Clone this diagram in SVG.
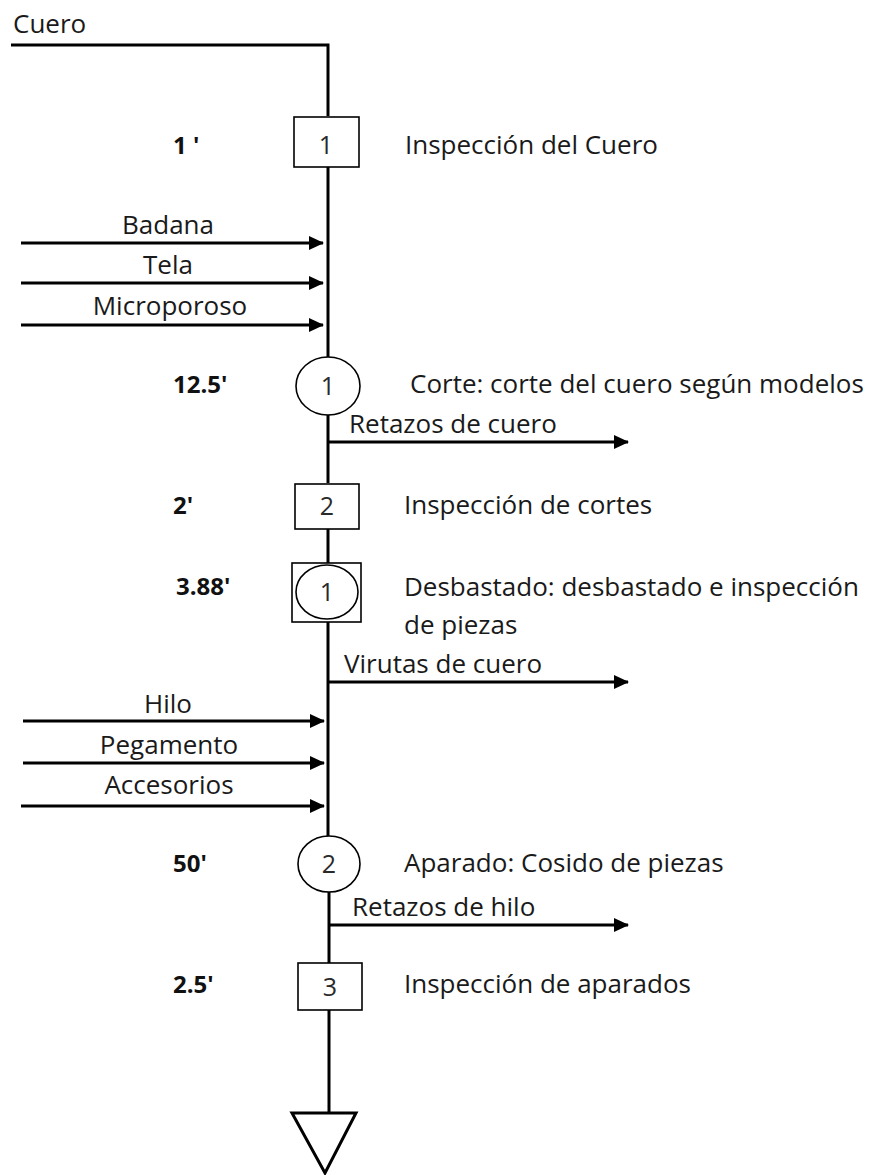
<svg xmlns="http://www.w3.org/2000/svg" width="874" height="1175" viewBox="0 0 874 1175">
<defs>
<style>
.t{font-family:"Open Sans","Liberation Sans",sans-serif;font-size:26px;fill:#1a1a1a}
.b{font-family:"Open Sans","Liberation Sans",sans-serif;font-size:24px;font-weight:bold;fill:#111}
.n{font-family:"Open Sans","Liberation Sans",sans-serif;font-size:25px;fill:#2a2a2a;text-anchor:middle}
.ln{stroke:#000;stroke-width:3;fill:none}
.sh{stroke:#000;stroke-width:1.6;fill:#fff}
</style>
<marker id="ah" viewBox="0 0 15 14" refX="14" refY="7" markerWidth="15" markerHeight="14" markerUnits="userSpaceOnUse" orient="auto">
<path d="M0,0 L15,7 L0,14 z" fill="#000"/>
</marker>
</defs>
<g id="connectors">
<polyline class="ln" points="11,45 328,45 328,116"/>
<line class="ln" x1="328" y1="167" x2="328" y2="357"/>
<line class="ln" x1="328" y1="415" x2="328" y2="483"/>
<line class="ln" x1="328" y1="529" x2="328" y2="563"/>
<line class="ln" x1="328" y1="622" x2="328" y2="836"/>
<line class="ln" x1="329" y1="892" x2="329" y2="963"/>
<line class="ln" x1="329" y1="1010" x2="329" y2="1113"/>
<line class="ln" x1="21" y1="243" x2="323" y2="243" marker-end="url(#ah)"/>
<line class="ln" x1="21" y1="283" x2="323" y2="283" marker-end="url(#ah)"/>
<line class="ln" x1="21" y1="325" x2="323" y2="325" marker-end="url(#ah)"/>
<line class="ln" x1="328" y1="442" x2="628" y2="442" marker-end="url(#ah)"/>
<line class="ln" x1="328" y1="682" x2="628" y2="682" marker-end="url(#ah)"/>
<line class="ln" x1="23" y1="721" x2="324" y2="721" marker-end="url(#ah)"/>
<line class="ln" x1="23" y1="763" x2="324" y2="763" marker-end="url(#ah)"/>
<line class="ln" x1="21" y1="806" x2="324" y2="806" marker-end="url(#ah)"/>
<line class="ln" x1="328" y1="925" x2="628" y2="925" marker-end="url(#ah)"/>
<text class="t" x="13" y="33">Cuero</text>
<text class="t" x="168" y="234" text-anchor="middle">Badana</text>
<text class="t" x="168" y="274" text-anchor="middle">Tela</text>
<text class="t" x="170" y="315" text-anchor="middle">Microporoso</text>
<text class="t" x="349" y="433">Retazos de cuero</text>
<text class="t" x="344" y="673">Virutas de cuero</text>
<text class="t" x="168" y="713" text-anchor="middle">Hilo</text>
<text class="t" x="169" y="754" text-anchor="middle">Pegamento</text>
<text class="t" x="169" y="794" text-anchor="middle">Accesorios</text>
<text class="t" x="352" y="916">Retazos de hilo</text>
</g>
<g id="insp1">
<rect class="sh" x="294" y="117" width="65" height="50"/>
<text class="n" x="326" y="154">1</text>
<text class="b" x="173" y="154">1 '</text>
<text class="t" x="405" y="154">Inspección del Cuero</text>
</g>
<g id="op1">
<ellipse class="sh" cx="328" cy="386" rx="32" ry="29"/>
<text class="n" x="328" y="395">1</text>
<text class="b" x="173" y="393">12.5'</text>
<text class="t" x="410" y="393">Corte: corte del cuero según modelos</text>
</g>
<g id="insp2">
<rect class="sh" x="295" y="484" width="64" height="45"/>
<text class="n" x="327" y="515">2</text>
<text class="b" x="173" y="514">2'</text>
<text class="t" x="404" y="514">Inspección de cortes</text>
</g>
<g id="comb1">
<rect class="sh" x="292" y="563" width="69" height="59"/>
<ellipse class="sh" cx="327" cy="592" rx="31" ry="27"/>
<text class="n" x="327" y="601">1</text>
<text class="b" x="176" y="595">3.88'</text>
<text class="t" x="404" y="596">Desbastado: desbastado e inspección</text>
<text class="t" x="404" y="634">de piezas</text>
</g>
<g id="op2">
<ellipse class="sh" cx="329" cy="864" rx="31" ry="28"/>
<text class="n" x="329" y="873">2</text>
<text class="b" x="173" y="872">50'</text>
<text class="t" x="404" y="872">Aparado: Cosido de piezas</text>
</g>
<g id="insp3">
<rect class="sh" x="298" y="963" width="64" height="47"/>
<text class="n" x="330" y="996">3</text>
<text class="b" x="173" y="993">2.5'</text>
<text class="t" x="404" y="993">Inspección de aparados</text>
</g>
<g id="store">
<polygon points="292,1113 356,1113 325,1173" fill="#fff" stroke="#000" stroke-width="3"/>
</g>
</svg>
